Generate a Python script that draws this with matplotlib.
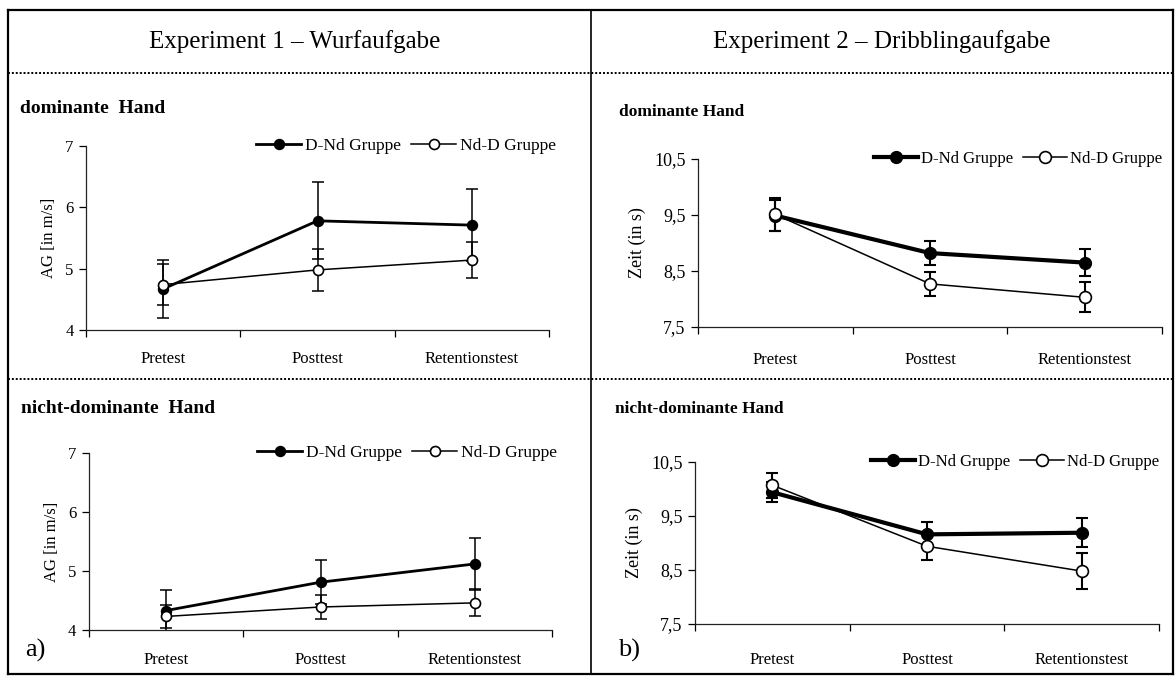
import matplotlib
matplotlib.use("Agg")
from matplotlib import pyplot as plt
from matplotlib.ticker import FixedLocator, NullFormatter, FixedFormatter

plt.rcParams["font.family"] = ["Liberation Serif", "DejaVu Serif"]

phases = ["Pretest", "Posttest", "Retentionstest"]
groups = ["D-Nd Gruppe", "Nd-D Gruppe"]

# Experiment 1 - Wurfaufgabe (AG in m/s)
e1_dom_dnd = [4.67, 5.78, 5.71]
e1_dom_dnd_err = [0.47, 0.63, 0.59]
e1_dom_ndd = [4.74, 4.98, 5.14]
e1_dom_ndd_err = [0.33, 0.34, 0.29]

e1_nd_dnd = [4.33, 4.81, 5.12]
e1_nd_dnd_err = [0.34, 0.37, 0.44]
e1_nd_ndd = [4.23, 4.39, 4.46]
e1_nd_ndd_err = [0.19, 0.21, 0.23]

# Experiment 2 - Dribblingaufgabe (Zeit in s)
e2_dom_dnd = [9.49, 8.82, 8.65]
e2_dom_dnd_err = [0.28, 0.21, 0.24]
e2_dom_ndd = [9.51, 8.27, 8.03]
e2_dom_ndd_err = [0.29, 0.21, 0.27]

e2_nd_dnd = [9.94, 9.16, 9.19]
e2_nd_dnd_err = [0.19, 0.23, 0.27]
e2_nd_ndd = [10.07, 8.94, 8.48]
e2_nd_ndd_err = [0.23, 0.25, 0.34]

e1_yticks = [4, 5, 6, 7]
e1_ylabels = ["4", "5", "6", "7"]
e2_yticks = [7.5, 8.5, 9.5, 10.5]
e2_ylabels = ["7,5", "8,5", "9,5", "10,5"]

W, H = 1175, 678
fig = plt.figure(figsize=(W / 100, H / 100), dpi=100)

# background layer in pixel coordinates for the table frame and headings
bg = fig.add_axes([0, 0, 1, 1])
bg.set_xlim(0, W)
bg.set_ylim(H, 0)
bg.axis("off")
for y in (10, 674):
    bg.plot([8, 1173], [y, y], color="black", lw=1.6)
for x in (8, 1173):
    bg.plot([x, x], [10, 674], color="black", lw=1.6)
bg.plot([591, 591], [10, 674], color="black", lw=1.2)
for y in (72.5, 379):
    bg.plot([8, 1173], [y, y], color="black", lw=1.4, linestyle=(0, (1, 1)))

bg.text(295, 42, "Experiment 1 \u2013 Wurfaufgabe", fontsize=18, ha="center", va="center")
bg.text(882, 42, "Experiment 2 \u2013 Dribblingaufgabe", fontsize=18, ha="center", va="center")
bg.text(20, 113, "dominante  Hand", fontsize=14, fontweight="bold", va="baseline")
bg.text(21, 413, "nicht-dominante  Hand", fontsize=14, fontweight="bold", va="baseline")
bg.text(619, 116, "dominante Hand", fontsize=12.5, fontweight="bold", va="baseline")
bg.text(615, 413, "nicht-dominante Hand", fontsize=12.5, fontweight="bold", va="baseline")
bg.text(35, 650, "a)", fontsize=19, ha="center", va="center")
bg.text(629, 650, "b)", fontsize=19, ha="center", va="center")


def px_axes(x0, y0, x1, y1):
    return fig.add_axes([x0 / W, 1 - y1 / H, (x1 - x0) / W, (y1 - y0) / H])


def panel(ax, dnd, dnd_err, ndd, ndd_err, yticks, ylabels, ylabel, thick, msize,
          ebw, cap, xpad, legx, yfs, legfs):
    x = range(len(phases))
    ax.errorbar(x, dnd, yerr=dnd_err, fmt="none", ecolor="black", elinewidth=ebw,
                capsize=cap, capthick=ebw, zorder=2)
    l1, = ax.plot(x, dnd, color="black", lw=thick, marker="o", ms=msize,
                  mfc="black", mec="black", zorder=3)
    ax.errorbar(x, ndd, yerr=ndd_err, fmt="none", ecolor="black", elinewidth=ebw,
                capsize=cap, capthick=ebw, zorder=4)
    l2, = ax.plot(x, ndd, color="black", lw=1.1, marker="o", ms=msize,
                  mfc="white", mec="black", mew=1.2, zorder=5)
    ax.set_xlim(-0.5, len(phases) - 0.5)
    ax.set_ylim(yticks[0], yticks[-1])
    ax.xaxis.set_major_locator(FixedLocator([-0.5, 0.5, 1.5, 2.5]))
    ax.xaxis.set_major_formatter(NullFormatter())
    ax.xaxis.set_minor_locator(FixedLocator(list(x)))
    ax.xaxis.set_minor_formatter(FixedFormatter(phases))
    ax.tick_params(axis="x", which="major", direction="out", length=5, width=0.9)
    ax.tick_params(axis="x", which="minor", length=0, pad=xpad, labelsize=12)
    ax.set_yticks(yticks)
    ax.set_yticklabels(ylabels)
    ax.tick_params(axis="y", direction="out", length=5, width=0.9, labelsize=yfs, pad=4)
    ax.set_ylabel(ylabel, fontsize=yfs, labelpad=6)
    for s in ("top", "right"):
        ax.spines[s].set_visible(False)
    for s in ("left", "bottom"):
        ax.spines[s].set_linewidth(0.9)
        ax.spines[s].set_color("#222222")
    ax.patch.set_alpha(0)
    ax.legend([l1, l2], groups, loc="center right", bbox_to_anchor=(legx, 1.0),
              ncol=2, frameon=False, fontsize=legfs, handlelength=2.6,
              handletextpad=0.2, columnspacing=0.6, borderpad=0, borderaxespad=0)


ax1 = px_axes(86, 146, 549, 330)
panel(ax1, e1_dom_dnd, e1_dom_dnd_err, e1_dom_ndd, e1_dom_ndd_err,
      e1_yticks, e1_ylabels, "AG [in m/s]", 2.0, 7.2, 1.1, 4, 15, 1.015, 12, 12.5)

ax2 = px_axes(698, 159, 1162, 327)
panel(ax2, e2_dom_dnd, e2_dom_dnd_err, e2_dom_ndd, e2_dom_ndd_err,
      e2_yticks, e2_ylabels, "Zeit (in s)", 3.0, 8.5, 1.5, 4.5, 18, 1.0, 13, 12)

ax3 = px_axes(89, 453, 552, 630)
panel(ax3, e1_nd_dnd, e1_nd_dnd_err, e1_nd_ndd, e1_nd_ndd_err,
      e1_yticks, e1_ylabels, "AG [in m/s]", 2.0, 7.2, 1.1, 4, 16, 1.01, 12, 12.5)

ax4 = px_axes(695, 462, 1159, 624)
panel(ax4, e2_nd_dnd, e2_nd_dnd_err, e2_nd_ndd, e2_nd_ndd_err,
      e2_yticks, e2_ylabels, "Zeit (in s)", 3.0, 8.5, 1.5, 4.5, 20, 1.0, 13, 12)

fig.savefig("out.png", dpi=100)
